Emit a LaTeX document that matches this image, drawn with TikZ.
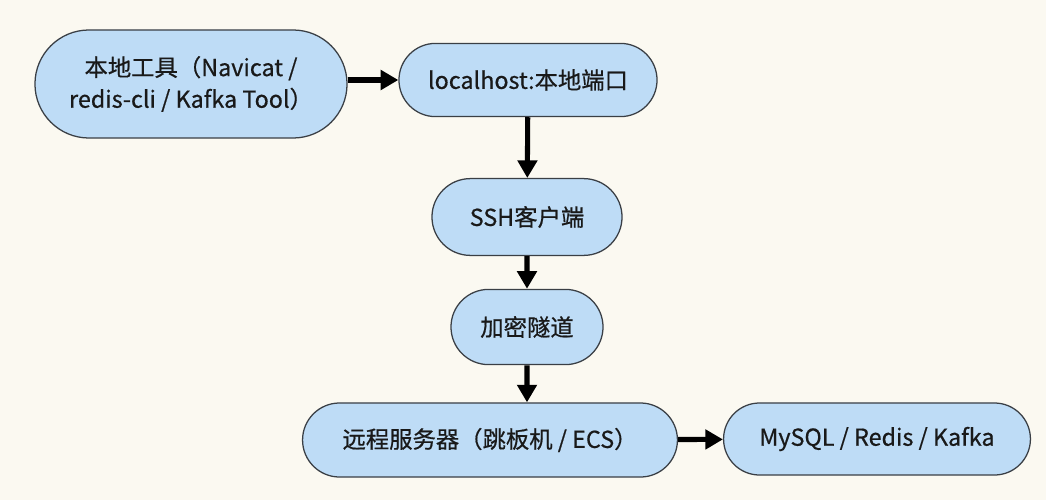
\documentclass[tikz,border=0pt]{standalone}
\usepackage{fontspec}
\setmainfont[FakeBold=0.6]{Noto Sans CJK SC}
\usetikzlibrary{shapes.misc,arrows.meta,positioning}
\definecolor{bgcream}{HTML}{FBF9F1}
\definecolor{boxblue}{HTML}{BEDCF6}
\definecolor{boxline}{HTML}{3A3F45}
\tikzset{box/.style={rounded rectangle, draw=boxline, line width=0.9pt, fill=boxblue, inner sep=0, align=center, font=\fontsize{16.6}{22.5}\selectfont, text=black!90},
  flow/.style={line width=3.6pt, -{Triangle[length=0.44cm,width=0.48cm]}}}

\begin{document}
\begin{tikzpicture}[x=0.025cm,y=-0.025cm]
    \fill[bgcream] (0,0) rectangle (1046,500);
    \useasboundingbox (0,0) rectangle (1046,500);

    \node[box, minimum width=7.8cm, minimum height=2.7cm](tool) at (191, 84) {本地工具（Navicat /\\redis-cli / Kafka Tool）};
    \node[box, minimum width=6.45cm, minimum height=1.83cm](port) at (528, 80) {localhost:本地端口};
    \node[box, minimum width=4.75cm, minimum height=1.92cm](ssh) at (527, 217) {SSH客户端};
    \node[box, minimum width=3.8cm, minimum height=1.88cm](tunnel) at (527, 327) {加密隧道};
    \node[box, minimum width=9.37cm, minimum height=1.85cm](ecs) at (490, 440) {远程服务器（跳板机 / ECS）};
    \node[box, minimum width=7.67cm, minimum height=1.8cm](db) at (877, 439) {MySQL / Redis / Kafka};

    \draw[flow] (tool.east |- port) -- (port);
    \draw[flow] (port) -- (ssh);
    \draw[flow] (ssh) -- (tunnel);
    \draw[flow] (tunnel) -- (tunnel |- ecs.north);
    \draw[flow] (ecs) -- (db);
  \end{tikzpicture}
\end{document}
